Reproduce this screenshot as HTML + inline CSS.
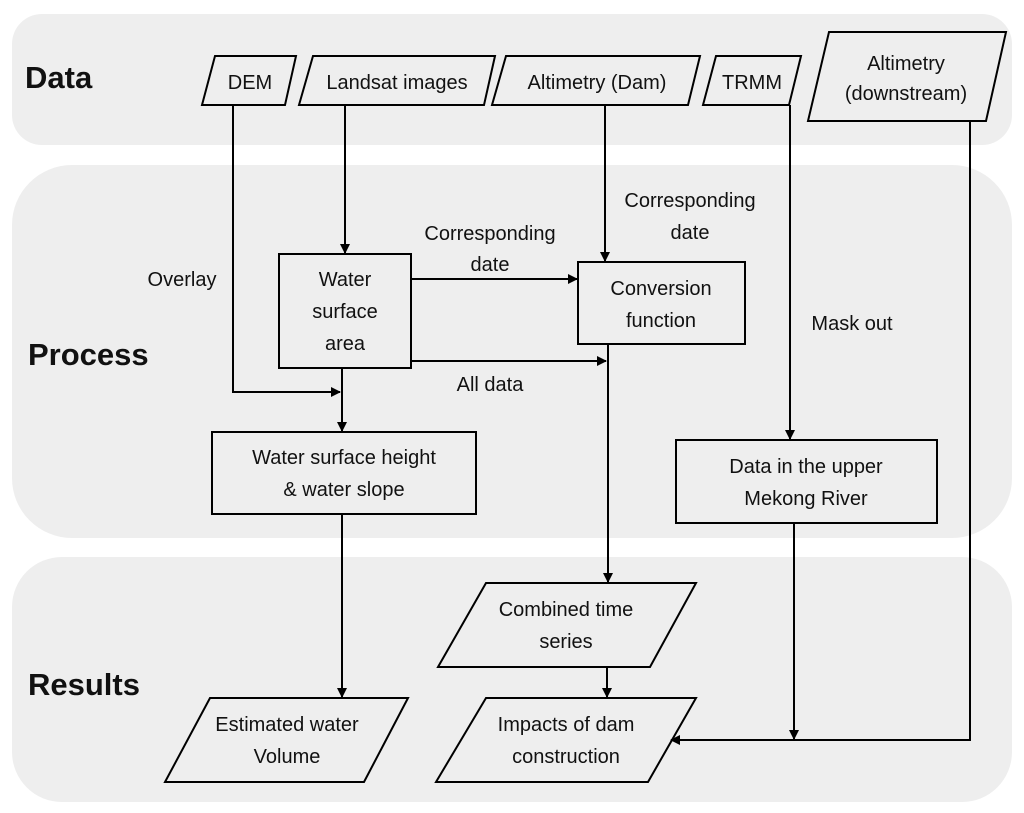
<!DOCTYPE html>
<html><head><meta charset="utf-8"><style>
html,body{margin:0;padding:0;background:#fff;}
svg{display:block;}
text{font-family:"Liberation Sans",Arial,sans-serif;font-size:20px;fill:#111;}
.b{font-weight:bold;font-size:31px;}
</style></head><body>
<svg width="1024" height="813" viewBox="0 0 1024 813">
<defs><marker id="a" markerWidth="10" markerHeight="10" refX="9" refY="5" orient="auto" markerUnits="userSpaceOnUse"><path d="M0,0 L10,5 L0,10 z" fill="#000"/></marker></defs>
<rect x="12" y="14" width="1000" height="131" rx="30" fill="#eeeeee"/>
<rect x="12" y="165" width="1000" height="373" rx="60" fill="#eeeeee"/>
<rect x="12" y="557" width="1000" height="245" rx="50" fill="#eeeeee"/>
<text class="b" x="25" y="88">Data</text>
<text class="b" x="28" y="365">Process</text>
<text class="b" x="28" y="695">Results</text>
<g fill="none" stroke="#000" stroke-width="2">
<polygon points="215,56 296,56 285,105 202,105" fill="#eeeeee"/>
<polygon points="313,56 495,56 484,105 299,105" fill="#eeeeee"/>
<polygon points="506,56 700,56 688,105 492,105" fill="#eeeeee"/>
<polygon points="716,56 801,56 789,105 703,105" fill="#eeeeee"/>
<polygon points="829,32 1006,32 986,121 808,121" fill="#eeeeee"/>
<rect x="279" y="254" width="132" height="114" fill="#eeeeee"/>
<rect x="578" y="262" width="167" height="82" fill="#eeeeee"/>
<rect x="212" y="432" width="264" height="82" fill="#eeeeee"/>
<rect x="676" y="440" width="261" height="83" fill="#eeeeee"/>
<polygon points="486,583 696,583 650,667 438,667" fill="#eeeeee"/>
<polygon points="486,698 696,698 648,782 436,782" fill="#eeeeee"/>
<polygon points="210,698 408,698 364,782 165,782" fill="#eeeeee"/>
<polyline points="233,105 233,392 340,392" marker-end="url(#a)"/>
<line x1="345" y1="105" x2="345" y2="253" marker-end="url(#a)"/>
<line x1="411" y1="279" x2="577" y2="279" marker-end="url(#a)"/>
<line x1="411" y1="361" x2="606" y2="361" marker-end="url(#a)"/>
<line x1="342" y1="368" x2="342" y2="431" marker-end="url(#a)"/>
<line x1="342" y1="514" x2="342" y2="697" marker-end="url(#a)"/>
<line x1="605" y1="105" x2="605" y2="261" marker-end="url(#a)"/>
<line x1="608" y1="344" x2="608" y2="582" marker-end="url(#a)"/>
<line x1="607" y1="667" x2="607" y2="697" marker-end="url(#a)"/>
<line x1="790" y1="105" x2="790" y2="439" marker-end="url(#a)"/>
<line x1="794" y1="523" x2="794" y2="739" marker-end="url(#a)"/>
<polyline points="970,121 970,740 671,740" marker-end="url(#a)"/>
</g>
<g text-anchor="middle">
<text x="250" y="89">DEM</text>
<text x="397" y="89">Landsat images</text>
<text x="597" y="89">Altimetry (Dam)</text>
<text x="752" y="89">TRMM</text>
<text x="906" y="70">Altimetry</text>
<text x="906" y="100">(downstream)</text>
<text x="345" y="286">Water</text>
<text x="345" y="318">surface</text>
<text x="345" y="350">area</text>
<text x="661" y="295">Conversion</text>
<text x="661" y="327">function</text>
<text x="344" y="464">Water surface height</text>
<text x="344" y="496">&amp; water slope</text>
<text x="806" y="473">Data in the upper</text>
<text x="806" y="505">Mekong River</text>
<text x="566" y="616">Combined time</text>
<text x="566" y="648">series</text>
<text x="566" y="731">Impacts of dam</text>
<text x="566" y="763">construction</text>
<text x="287" y="731">Estimated water</text>
<text x="287" y="763">Volume</text>
<text x="490" y="240">Corresponding</text>
<text x="490" y="271">date</text>
<text x="690" y="207">Corresponding</text>
<text x="690" y="239">date</text>
<text x="182" y="286">Overlay</text>
<text x="490" y="391">All data</text>
<text x="852" y="330">Mask out</text>
</g>
</svg>
</body></html>
